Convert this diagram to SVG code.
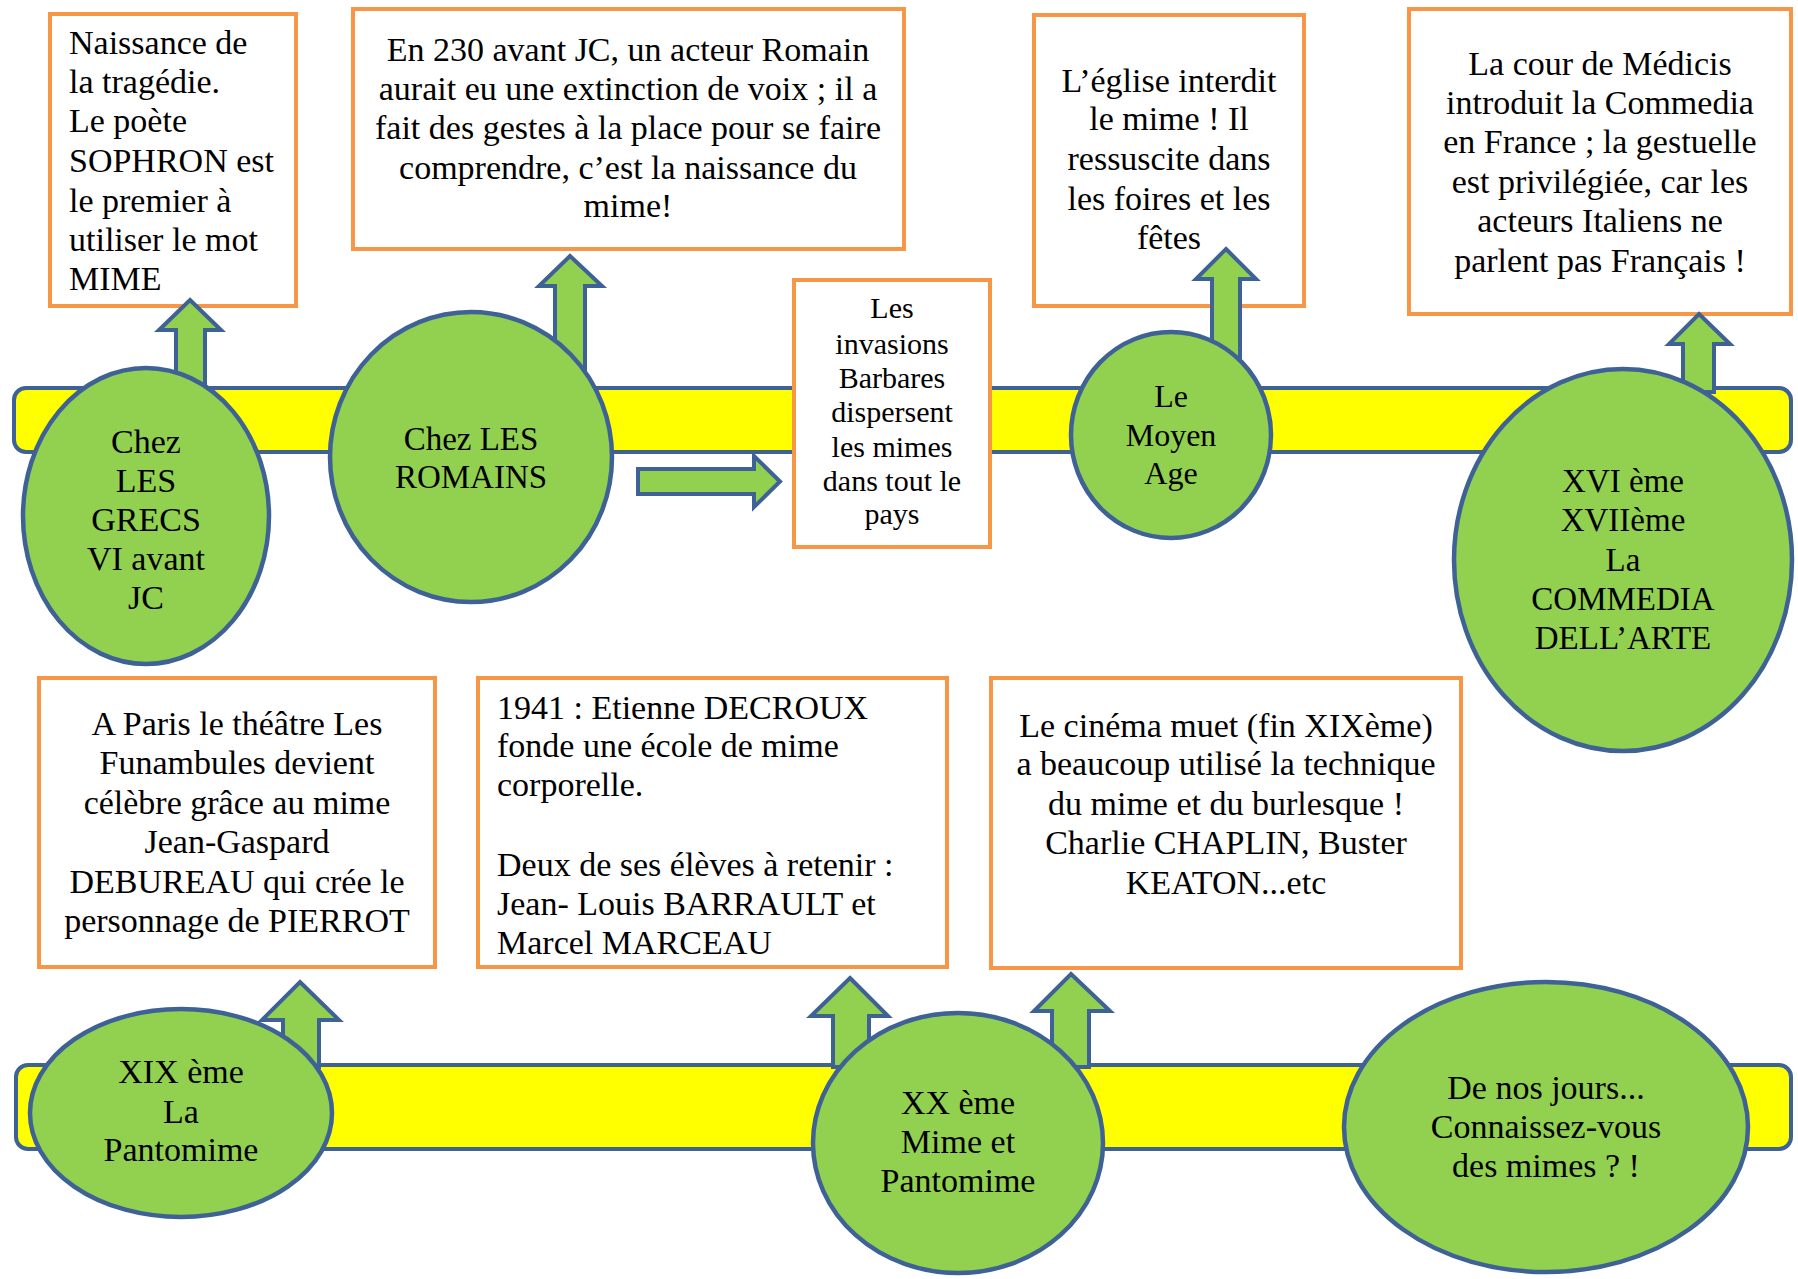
<svg xmlns="http://www.w3.org/2000/svg" width="1798" height="1279" viewBox="0 0 1798 1279">
<style>
.band{fill:#FFFF00;stroke:#3F6296;stroke-width:4}
.box{fill:#FFFFFF;stroke:#F79646;stroke-width:4}
.circ{fill:#92D050;stroke:#3F6296;stroke-width:4.5}
.arr{fill:#92D050;stroke:#3F6296;stroke-width:4;stroke-linejoin:miter}
text{font-family:"Liberation Serif","Times New Roman",serif;font-size:34px;fill:#000}
.c{text-anchor:middle}
.s30{font-size:30px}
.s32{font-size:32px}
.s33{font-size:33px}
</style>
<rect width="1798" height="1279" fill="#FFFFFF"/>
<g id="bands">
<rect class="band" x="14" y="388" width="1777" height="64" rx="12"/>
<rect class="band" x="16" y="1065" width="1775" height="84" rx="12"/>
</g>
<g id="box1">
<rect class="box" x="50" y="14" width="246" height="292"/>
<text x="69" y="54">Naissance de</text>
<text x="69" y="93">la tragédie.</text>
<text x="69" y="132">Le poète</text>
<text x="69" y="172">SOPHRON est</text>
<text x="69" y="212">le premier à</text>
<text x="69" y="251">utiliser le mot</text>
<text x="69" y="290">MIME</text>
</g>
<g id="box2">
<rect class="box" x="353" y="9" width="551" height="240"/>
<text class="c" x="628" y="61">En 230 avant JC, un acteur Romain</text>
<text class="c" x="628" y="100">aurait eu une extinction de voix ; il a</text>
<text class="c" x="628" y="139">fait des gestes à la place pour se faire</text>
<text class="c" x="628" y="179">comprendre, c’est la naissance du</text>
<text class="c" x="628" y="217">mime!</text>
</g>
<g id="box3">
<rect class="box" x="794" y="280" width="196" height="267"/>
<text class="c s30" x="892" y="318">Les</text>
<text class="c s30" x="892" y="354">invasions</text>
<text class="c s30" x="892" y="388">Barbares</text>
<text class="c s30" x="892" y="422">dispersent</text>
<text class="c s30" x="892" y="457">les mimes</text>
<text class="c s30" x="892" y="491">dans tout le</text>
<text class="c s30" x="892" y="524">pays</text>
</g>
<g id="box4">
<rect class="box" x="1034" y="15" width="270" height="291"/>
<text class="c" x="1169" y="92">L’église interdit</text>
<text class="c" x="1169" y="130">le mime ! Il</text>
<text class="c" x="1169" y="170">ressuscite dans</text>
<text class="c" x="1169" y="210">les foires et les</text>
<text class="c" x="1169" y="249">fêtes</text>
</g>
<g id="box5">
<rect class="box" x="1409" y="9" width="382" height="305"/>
<text class="c" x="1600" y="75">La cour de Médicis</text>
<text class="c" x="1600" y="114">introduit la Commedia</text>
<text class="c" x="1600" y="153">en France ; la gestuelle</text>
<text class="c" x="1600" y="193">est privilégiée, car les</text>
<text class="c" x="1600" y="232">acteurs Italiens ne</text>
<text class="c" x="1600" y="272">parlent pas Français !</text>
</g>
<g id="box6">
<rect class="box" x="39" y="678" width="396" height="289"/>
<text class="c" x="237" y="735">A Paris le théâtre Les</text>
<text class="c" x="237" y="774">Funambules devient</text>
<text class="c" x="237" y="814">célèbre grâce au mime</text>
<text class="c" x="237" y="853">Jean-Gaspard</text>
<text class="c" x="237" y="893">DEBUREAU qui crée le</text>
<text class="c" x="237" y="932">personnage de PIERROT</text>
</g>
<g id="box7">
<rect class="box" x="478" y="678" width="469" height="289"/>
<text x="497" y="719">1941 : Etienne DECROUX</text>
<text x="497" y="757">fonde une école de mime</text>
<text x="497" y="796">corporelle.</text>
<text x="497" y="876">Deux de ses élèves à retenir :</text>
<text x="497" y="915">Jean- Louis BARRAULT et</text>
<text x="497" y="954">Marcel MARCEAU</text>
</g>
<g id="box8">
<rect class="box" x="991" y="678" width="470" height="290"/>
<text class="c" x="1226" y="737">Le cinéma muet (fin XIXème)</text>
<text class="c" x="1226" y="775">a beaucoup utilisé la technique</text>
<text class="c" x="1226" y="815">du mime et du burlesque !</text>
<text class="c" x="1226" y="854">Charlie CHAPLIN, Buster</text>
<text class="c" x="1226" y="894">KEATON...etc</text>
</g>
<g id="connectors">
<polygon class="arr" points="190,300 221,330 205,330 205,392 176,392 176,330 159,330"/>
<polygon class="arr" points="570,256 602,286 585,286 585,392 555,392 555,286 539,286"/>
<polygon class="arr" points="638,469 754,469 754,456 780,481.5 754,507 754,494 638,494"/>
<polygon class="arr" points="1226,249 1256,279 1240,279 1240,392 1212,392 1212,279 1196,279"/>
<polygon class="arr" points="1699,314 1730,344 1714,344 1714,392 1683,392 1683,344 1669,344"/>
<polygon class="arr" points="300,982 339,1020 319,1020 319,1067 283,1067 283,1020 262,1020"/>
<polygon class="arr" points="850,978 888,1016 869,1016 869,1067 833,1067 833,1016 811,1016"/>
<polygon class="arr" points="1071,974 1110,1011 1089,1011 1089,1067 1052,1067 1052,1011 1034,1011"/>
</g>
<g id="grecs">
<ellipse class="circ" cx="146" cy="516" rx="123" ry="148"/>
<text class="c" x="146" y="453">Chez</text>
<text class="c" x="146" y="492">LES</text>
<text class="c" x="146" y="531">GRECS</text>
<text class="c" x="146" y="570">VI avant</text>
<text class="c" x="146" y="609">JC</text>
</g>
<g id="romains">
<ellipse class="circ" cx="471" cy="457" rx="141" ry="145"/>
<text class="c s33" x="471" y="450">Chez LES</text>
<text class="c s33" x="471" y="488">ROMAINS</text>
</g>
<g id="moyenage">
<ellipse class="circ" cx="1171" cy="435" rx="100" ry="103"/>
<text class="c s32" x="1171" y="407">Le</text>
<text class="c s32" x="1171" y="446">Moyen</text>
<text class="c s32" x="1171" y="484">Age</text>
</g>
<g id="commedia">
<ellipse class="circ" cx="1623" cy="560" rx="169" ry="191"/>
<text class="c s33" x="1623" y="492">XVI ème</text>
<text class="c s33" x="1623" y="531">XVIIème</text>
<text class="c s33" x="1623" y="571">La</text>
<text class="c s33" x="1623" y="610">COMMEDIA</text>
<text class="c s33" x="1623" y="649">DELL’ARTE</text>
</g>
<g id="pantomime19">
<ellipse class="circ" cx="181" cy="1113" rx="151" ry="104"/>
<text class="c" x="181" y="1083">XIX ème</text>
<text class="c" x="181" y="1123">La</text>
<text class="c" x="181" y="1161">Pantomime</text>
</g>
<g id="mime20">
<ellipse class="circ" cx="958" cy="1143" rx="145" ry="130"/>
<text class="c" x="958" y="1114">XX ème</text>
<text class="c" x="958" y="1153">Mime et</text>
<text class="c" x="958" y="1192">Pantomime</text>
</g>
<g id="nosjours">
<ellipse class="circ" cx="1546" cy="1127" rx="202" ry="145"/>
<text class="c" x="1546" y="1099">De nos jours...</text>
<text class="c" x="1546" y="1138">Connaissez-vous</text>
<text class="c" x="1546" y="1177">des mimes ? !</text>
</g>
</svg>
